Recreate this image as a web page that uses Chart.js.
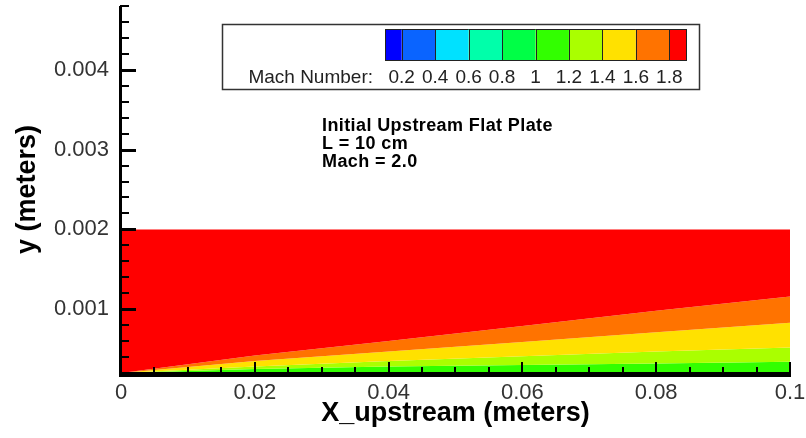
<!DOCTYPE html>
<html>
<head>
<meta charset="utf-8">
<title>Initial Upstream Flat Plate</title>
<script src="https://cdn.jsdelivr.net/npm/chart.js@4/dist/chart.umd.min.js"></script>
<style>
    html, body { margin: 0; padding: 0; background: #fff; }
    #machPlot { display: block; }
</style>
</head>
<body>
<canvas id="machPlot" width="806" height="438"></canvas>
<script>
// stations along the plate (m)
const xStations = [0, 0.02, 0.04, 0.06, 0.08, 0.1];

// height of each Mach contour at the stations (m)
const domainTop = [0.002, 0.002, 0.002, 0.002, 0.002, 0.002];
const mach18 = [0.0002, 0.00042, 0.00060, 0.00079, 0.00098, 0.00116];
const mach16 = [0.0002, 0.00035, 0.00047, 0.00059, 0.00071, 0.00083];
const mach14 = [0.0002, 0.00028, 0.00035, 0.00041, 0.00047, 0.00052];
const mach12 = [0.0002, 0.00025, 0.00028, 0.00030, 0.00032, 0.00034];

// contour levels and flood colours
const machLevels = [0.2, 0.4, 0.6, 0.8, 1, 1.2, 1.4, 1.6, 1.8];
const bandColors = ['#0000ff', '#0a64ff', '#00e1ff', '#00ffaa', '#00ff46',
                    '#32ff00', '#aaff00', '#ffe100', '#ff7300', '#ff0000'];

// axis ticks
const xTickLabels = [0, 0.02, 0.04, 0.06, 0.08, 0.1];
const yTickLabels = [0.001, 0.002, 0.003, 0.004];
const xMinorStep = 0.005;
const yMinorStep = 0.0002;

const noteLines = ['Initial Upstream Flat Plate', 'L = 10 cm', 'Mach = 2.0'];

const FONT = "'Liberation Sans', Arial, Helvetica, sans-serif";

function pts(ys) {
    return xStations.map((x, i) => ({x: x, y: ys[i]}));
}

function band(ys, color, fill) {
    return {
        data: pts(ys),
        backgroundColor: color,
        borderColor: color,
        borderWidth: 0,
        pointRadius: 0,
        tension: 0,
        fill: fill
    };
}

// thick axis lines with inward ticks, drawn over the flood
const axisFrame = {
    id: 'axisFrame',
    afterDatasetsDraw(chart) {
        const ctx = chart.ctx;
        const a = chart.chartArea;
        const sx = chart.scales.x;
        const sy = chart.scales.y;
        ctx.save();
        ctx.fillStyle = '#000';
        ctx.fillRect(a.left - 2, a.bottom - 1, a.right - a.left + 3, 5);
        ctx.fillRect(a.left - 2, a.top, 3, a.bottom - a.top + 3);

        for (let v = 0; v <= sx.max + 1e-9; v += xMinorStep) {
            const px = Math.round(sx.getPixelForValue(v));
            const major = xTickLabels.some(t => Math.abs(t - v) < 1e-9);
            const len = major ? 10 : 5;
            ctx.fillRect(px - 1, a.bottom - 1 - len, 2, len);
        }
        for (let v = sy.min + yMinorStep; v <= sy.max + 1e-9; v += yMinorStep) {
            const py = Math.round(sy.getPixelForValue(v));
            const major = yTickLabels.some(t => Math.abs(t - v) < 1e-9);
            const len = major ? 16 : 9;
            ctx.fillRect(a.left - 1, py - 1, len, major ? 3 : 2);
        }
        ctx.restore();
    },
    afterDraw(chart) {
        const ctx = chart.ctx;
        ctx.save();

        // colour legend box
        ctx.fillStyle = '#fff';
        ctx.fillRect(222, 24, 477, 65);
        ctx.strokeStyle = '#333';
        ctx.lineWidth = 1.5;
        ctx.strokeRect(222.5, 24.5, 477, 65);

        const barLeft = 385, barTop = 29, barW = 301, barH = 31;
        const edges = [0.1].concat(machLevels, [1.9]);
        const toPx = m => barLeft + (m - edges[0]) / (edges[edges.length - 1] - edges[0]) * barW;
        ctx.lineWidth = 1;
        ctx.strokeStyle = '#222';
        for (let i = 0; i < bandColors.length; i++) {
            const x0 = toPx(edges[i]), x1 = toPx(edges[i + 1]);
            ctx.fillStyle = bandColors[i];
            ctx.fillRect(x0, barTop, x1 - x0, barH);
            ctx.strokeRect(Math.round(x0) + 0.5, barTop + 0.5, Math.round(x1) - Math.round(x0), barH);
        }

        ctx.fillStyle = '#222';
        ctx.font = '19px ' + FONT;
        ctx.textBaseline = 'alphabetic';
        ctx.textAlign = 'right';
        ctx.fillText('Mach Number:', 373, 83);
        ctx.textAlign = 'center';
        machLevels.forEach(m => ctx.fillText(String(m), toPx(m), 83));

        // case note
        ctx.fillStyle = '#000';
        ctx.font = 'bold 18px ' + FONT;
        ctx.letterSpacing = '0.4px';
        ctx.textAlign = 'left';
        noteLines.forEach((t, i) => ctx.fillText(t, 322, 131 + i * 18));

        ctx.restore();
    }
};

new Chart('machPlot', {
    type: 'line',
    data: {
        datasets: [
            band(domainTop, bandColors[9], '+1'),
            band(mach18, bandColors[8], '+1'),
            band(mach16, bandColors[7], '+1'),
            band(mach14, bandColors[6], '+1'),
            band(mach12, bandColors[5], 'start')
        ]
    },
    options: {
        responsive: false,
        devicePixelRatio: 1,
        animation: false,
        layout: {padding: {top: 6, right: 16, left: 0, bottom: 0}},
        plugins: {
            legend: {display: false},
            tooltip: {enabled: false}
        },
        scales: {
            x: {
                type: 'linear',
                min: 0,
                max: 0.1,
                afterFit: s => { s.height = 65; s.paddingLeft = 0; s.paddingRight = 0; },
                afterBuildTicks: s => { s.ticks = xTickLabels.map(v => ({value: v})); },
                grid: {display: false, drawTicks: false},
                border: {display: false},
                ticks: {
                    color: '#333',
                    padding: 7,
                    maxRotation: 0,
                    font: {family: FONT, size: 22},
                    callback: v => String(v)
                },
                title: {
                    display: true,
                    text: 'X_upstream (meters)',
                    color: '#000',
                    font: {family: FONT, size: 27, weight: 'bold'},
                    padding: {top: 0, bottom: 8}
                }
            },
            y: {
                type: 'linear',
                min: 0.0002,
                max: 0.0048,
                afterFit: s => { s.width = 121; s.paddingTop = 0; s.paddingBottom = 0; },
                afterBuildTicks: s => { s.ticks = yTickLabels.map(v => ({value: v})); },
                grid: {display: false, drawTicks: false},
                border: {display: false},
                ticks: {
                    color: '#333',
                    padding: 12,
                    font: {family: FONT, size: 22},
                    callback: v => String(v)
                },
                title: {
                    display: true,
                    text: 'y (meters)',
                    color: '#000',
                    font: {family: FONT, size: 27, weight: 'bold'},
                    padding: {top: 11, bottom: 0}
                }
            }
        }
    },
    plugins: [axisFrame]
});
</script>
</body>
</html>
